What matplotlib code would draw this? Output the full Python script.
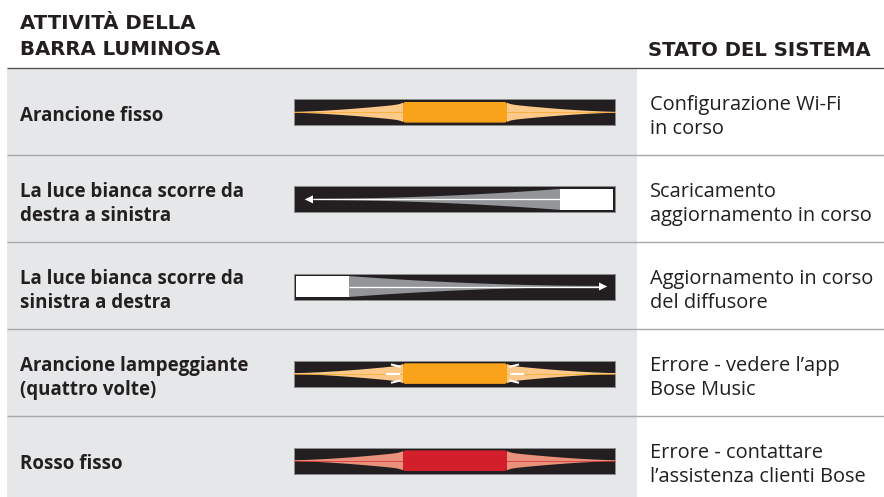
import numpy as np
import matplotlib
matplotlib.use("Agg")
import matplotlib.pyplot as plt
from matplotlib.patches import Rectangle, FancyBboxPatch, Polygon

# ---------------- data ----------------
header_left = ["ATTIVITÀ DELLA", "BARRA LUMINOSA"]
header_right = "STATO DEL SISTEMA"
row_labels = [
    "Arancione fisso",
    "La luce bianca scorre da\ndestra a sinistra",
    "La luce bianca scorre da\nsinistra a destra",
    "Arancione lampeggiante\n(quattro volte)",
    "Rosso fisso",
]
row_states = [
    "Configurazione Wi-Fi\nin corso",
    "Scaricamento\naggiornamento in corso",
    "Aggiornamento in corso\ndel diffusore",
    "Errore - vedere l’app\nBose Music",
    "Errore - contattare\nl’assistenza clienti Bose",
]
row_patterns = ["solid", "sweep_left", "sweep_right", "blink", "solid"]
light_colors = ["#f9a31b", "#ffffff", "#ffffff", "#f9a31b", "#d31f2c"]
glow_colors = ["#fdc98a", "#939598", "#939598", "#fdc98a", "#e9917b"]

# ---------------- style / layout ----------------
W, H = 884, 497
PX = 0.72  # points per pixel at dpi 100
TEXT = "#231f20"
BG_GREY = "#e6e7e8"
BAR = "#231f20"
TABLE_L, DIVIDER, TOP = 7, 637, 68
ROW_H = 87.1
BAR_L, BAR_R, BAR_HH = 294, 615, 13
SEG_L, SEG_R, SEG_HH = 403, 507, 10.3

fig = plt.figure(figsize=(W / 100, H / 100), dpi=100)
ax = fig.add_axes([0, 0, 1, 1])
ax.set_xlim(0, W)
ax.set_ylim(H, 0)
ax.axis("off")

# background regions
ax.add_patch(Rectangle((TABLE_L, TOP), DIVIDER - TABLE_L, H - TOP, color=BG_GREY, lw=0, zorder=0))

# headers
for i, line in enumerate(header_left):
    ax.text(20, 29.3 + 26 * i, line, fontsize=19.8 * PX, fontweight="bold",
            family="DejaVu Sans", color=TEXT, va="baseline", ha="left")
ax.text(648, 56, header_right, fontsize=19.6 * PX, fontweight="bold",
        family="DejaVu Sans", color=TEXT, va="baseline", ha="left")

# lines
ax.plot([TABLE_L, W], [TOP, TOP], color="#4d4d4f", lw=1.3 * PX, zorder=3, solid_capstyle="butt")
for i in range(1, len(row_labels)):
    y = TOP + ROW_H * i
    ax.plot([TABLE_L, W], [y, y], color="#a7a9ac", lw=1.4 * PX, zorder=3, solid_capstyle="butt")


def taper(length, h0, h1, p, flare=0.0, n=120):
    t = np.linspace(0, 1, n)
    d = t * length
    return d, h1 + (h0 - h1) * (1 - t) ** p + flare * np.exp(-d / 3.5)


def draw_text(x, c, txt, weight, size, family):
    lines = txt.split("\n")
    if len(lines) == 1:
        ys = [c + 8.5]
    else:
        ys = [c - 2.3, c + 21.6]
    for ln, y in zip(lines, ys):
        ax.text(x, y, ln, fontsize=size * PX, fontweight=weight, family=family,
                color=TEXT, va="baseline", ha="left")


for i, (lab, st, pat, lc, gc) in enumerate(zip(row_labels, row_states, row_patterns,
                                               light_colors, glow_colors)):
    c = TOP + ROW_H * (i + 0.5) + 0.75
    draw_text(20, c, lab, "bold", 18.8, "Open Sans")
    draw_text(650, c, st, "normal", 20.0, "Open Sans")

    # bar body
    ax.add_patch(Rectangle((BAR_L, c - BAR_HH), BAR_R - BAR_L, 2 * BAR_HH,
                           facecolor=BAR, edgecolor="#8a8c8e", lw=1.0 * PX, zorder=4))

    if pat in ("solid", "blink"):
        # glow on both sides
        L = SEG_L - BAR_L
        d, h = taper(L, SEG_HH - 2.2, 0.5, 1.5, flare=1.6)
        xl = SEG_L - d
        poly = np.column_stack([np.r_[xl, xl[::-1]], np.r_[c - h, (c + h)[::-1]]])
        ax.add_patch(Polygon(poly, closed=True, facecolor=gc, edgecolor="none", zorder=5))
        xr = SEG_R + d
        poly = np.column_stack([np.r_[xr, xr[::-1]], np.r_[c - h, (c + h)[::-1]]])
        ax.add_patch(Polygon(poly, closed=True, facecolor=gc, edgecolor="none", zorder=5))
        # thin center line
        ax.plot([BAR_L, BAR_R], [c, c], color=lc, lw=0.9 * PX, alpha=0.7, zorder=5,
                solid_capstyle="butt")
        # segment
        ax.add_patch(FancyBboxPatch((SEG_L, c - SEG_HH), SEG_R - SEG_L, 2 * SEG_HH,
                                    boxstyle="round,pad=0,rounding_size=2.5",
                                    facecolor=lc, edgecolor="none", zorder=6))
        if pat == "blink":
            kw = dict(color="white", lw=2.0 * PX, zorder=7, solid_capstyle="butt")
            for sgn, edge in ((-1, SEG_L), (1, SEG_R)):
                ax.plot([edge + sgn * 3, edge + sgn * 17], [c, c], **kw)
                ax.plot([edge + sgn * 2.3, edge + sgn * 12], [c - 6.8, c - 9.2], **kw)
                ax.plot([edge + sgn * 2.3, edge + sgn * 12], [c + 6.8, c + 9.2], **kw)
    else:
        wr_w, inset, wr_hh = 52.6, 2.0, 10.5
        if pat == "sweep_left":
            wx0 = BAR_R - inset - wr_w
            wx1 = BAR_R - inset
            edge, tail, sgn = wx0, BAR_L + 18, -1
        else:
            wx0 = BAR_L + inset
            wx1 = BAR_L + inset + wr_w
            edge, tail, sgn = wx1, BAR_R - 15, 1
        L = abs(edge - tail)
        d, h = taper(L, wr_hh, 0.6, 1.9)
        xs = edge + sgn * d
        poly = np.column_stack([np.r_[xs, xs[::-1]], np.r_[c - h, (c + h)[::-1]]])
        ax.add_patch(Polygon(poly, closed=True, facecolor=gc, edgecolor="none", zorder=5))
        ax.add_patch(Rectangle((wx0, c - wr_hh), wr_w, 2 * wr_hh, facecolor=lc,
                               edgecolor="none", zorder=6))
        # arrow shaft and head
        head_base = tail - sgn * 1
        ax.plot([edge, head_base], [c, c], color="white", lw=1.3 * PX, zorder=7,
                solid_capstyle="butt")
        tip = head_base + sgn * 8.3
        ax.add_patch(Polygon([[head_base, c - 4], [head_base, c + 4], [tip, c]], closed=True,
                             facecolor="white", edgecolor="none", zorder=7))

fig.savefig("out.png", dpi=100)
